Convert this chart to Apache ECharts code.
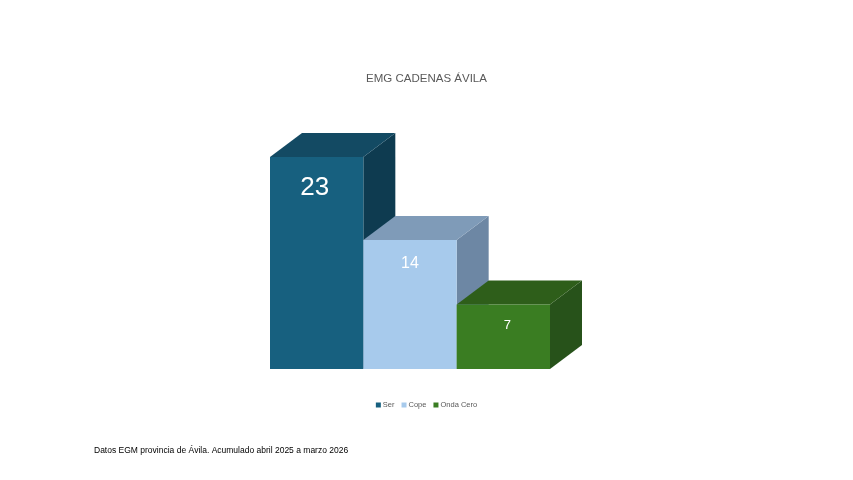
<!DOCTYPE html>
<html><head><meta charset="utf-8">
<script src="https://cdn.jsdelivr.net/npm/echarts@6/dist/echarts.min.js"></script>
<style>html,body{margin:0;background:#fff}#c{width:853px;height:480px}</style>
</head><body><div id="c"></div>
<script>
const categories = ['Ser', 'Cope', 'Onda Cero'];
const values = [23, 14, 7];
const title = 'EMG CADENAS ÁVILA';
const footnote = 'Datos EGM provincia de Ávila. Acumulado abril 2025 a marzo 2026';

const colors = [
  {front:'#17607f', top:'#134a63', side:'#0e3b50'},
  {front:'#a7caec', top:'#7f9bb8', side:'#6d87a4'},
  {front:'#3a7d22', top:'#2e5e1a', side:'#27521a'}
];
const fontSizes = [26, 16, 13];
const labelDx = [-2, 0, 4];
const labelDy = [31, 24, 21];
const dx = 32, dy = 24;

const chart = echarts.init(document.getElementById('c'));
chart.setOption({
  animation:false,
  title:{text:title, left:'center', top:68, textStyle:{fontSize:11.5, fontWeight:'normal', color:'#595959', fontFamily:'Liberation Sans'}},
  graphic:[{type:'text', left:94, top:446, style:{text:footnote, fontSize:8.5, fill:'#000', fontFamily:'Liberation Sans'}}],
  legend:{bottom:66, left:'center', itemWidth:5, itemHeight:5, itemGap:7, icon:'rect',
    textStyle:{fontSize:7.5, color:'#595959', padding:[0,0,0,-3]}, data:categories},
  grid:{left:270, width:280, bottom:111, top:92.4},
  xAxis:{type:'category', data:categories, show:false},
  yAxis:{type:'value', min:0, max:30, show:false},
  series: categories.map((name,i)=>({
    name, type:'custom', itemStyle:{color:colors[i].front},
    data:[[i, values[i]]],
    renderItem:(params, api)=>{
      const idx = api.value(0), v = api.value(1);
      const top = api.coord([idx, v]), base = api.coord([idx, 0]);
      const w = api.size([1,0])[0];
      const x0 = top[0]-w/2, x1 = top[0]+w/2, y0 = top[1], y1 = base[1];
      const c = colors[i];
      return {type:'group', children:[
        {type:'polygon', shape:{points:[[x1,y0],[x1+dx,y0-dy],[x1+dx,y1-dy],[x1,y1]]}, style:{fill:c.side}},
        {type:'polygon', shape:{points:[[x0,y0],[x0+dx,y0-dy],[x1+dx,y0-dy],[x1,y0]]}, style:{fill:c.top}},
        {type:'rect', shape:{x:x0, y:y0, width:w, height:y1-y0}, style:{fill:c.front}},
        {type:'text', style:{text:String(v), x:top[0]+labelDx[i], y:y0+labelDy[i], align:'center', verticalAlign:'middle',
          fontSize:fontSizes[i], fill:'#fff', fontFamily:'Liberation Sans'}}
      ]};
    }
  }))
});
</script></body></html>
